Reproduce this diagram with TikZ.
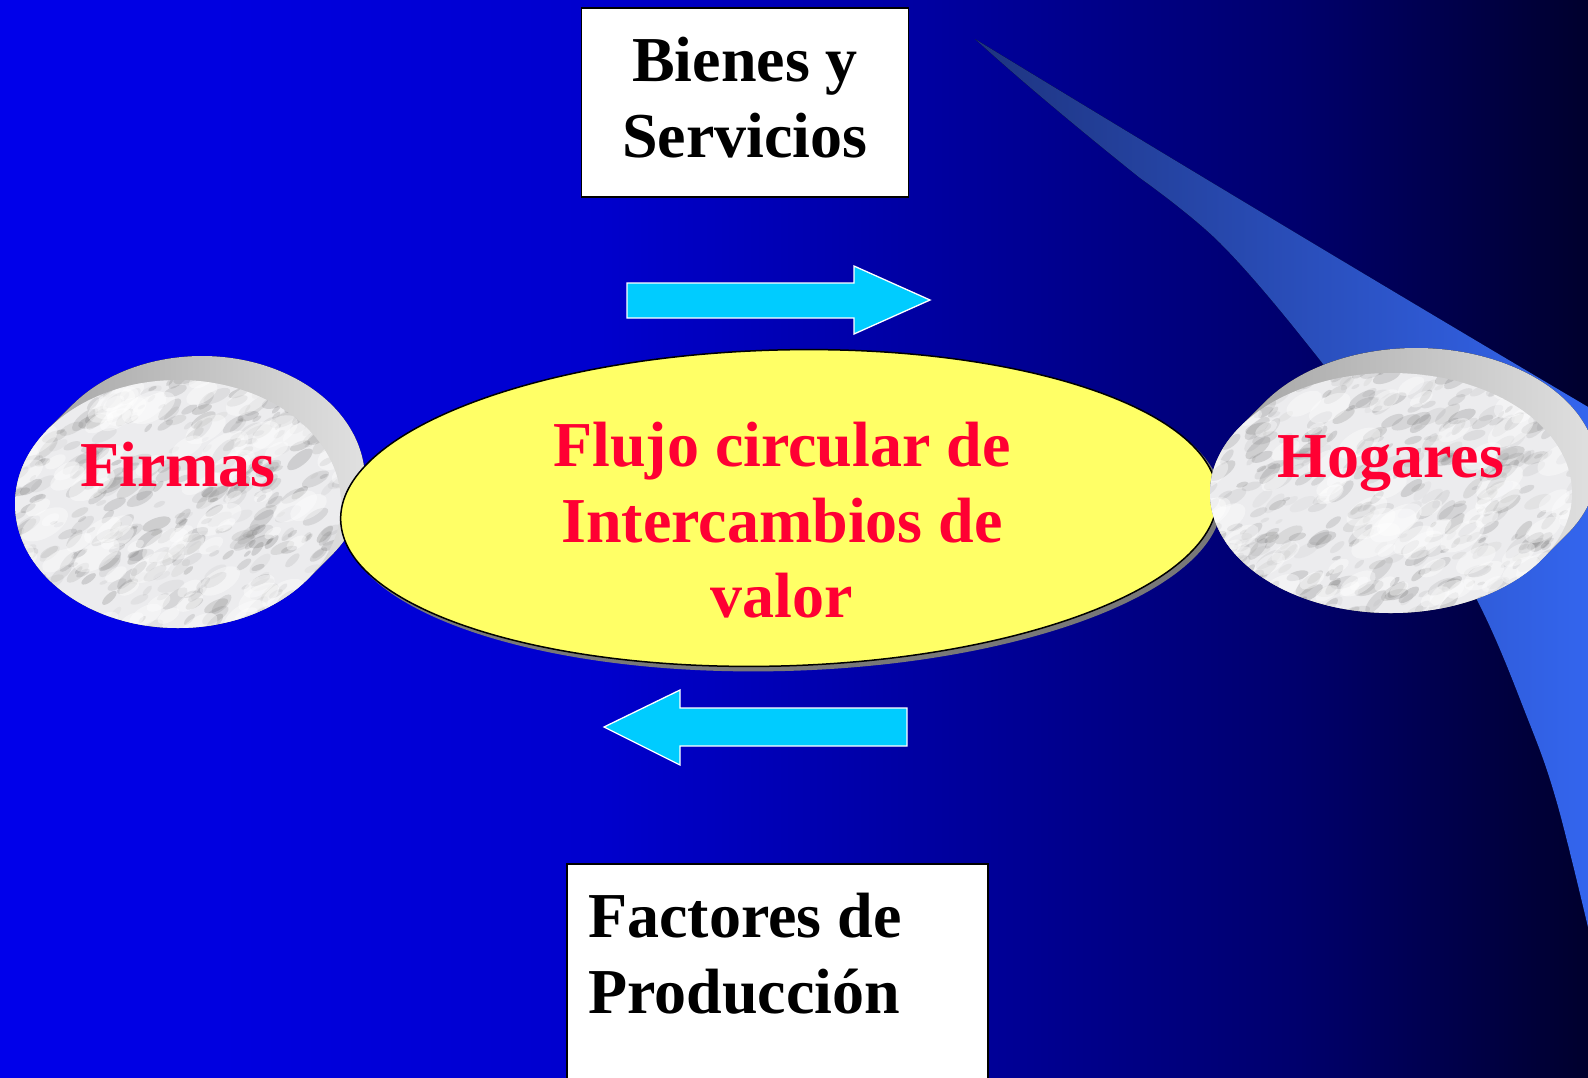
\documentclass[tikz,border=0pt]{standalone}
\usepackage{fontspec}
\setmainfont{Liberation Serif}
\usetikzlibrary{shapes.geometric}
\definecolor{txtred}{RGB}{255,0,51}
\definecolor{arrowcyan}{RGB}{0,204,255}
\definecolor{ellyellow}{RGB}{255,255,102}
\definecolor{bgA}{RGB}{0,0,235}
\definecolor{bgB}{RGB}{0,0,205}
\definecolor{bgC}{RGB}{0,0,160}
\definecolor{bgD}{RGB}{0,0,108}
\definecolor{bgE}{RGB}{0,0,45}
\definecolor{swA}{RGB}{30,52,128}
\definecolor{swB}{RGB}{52,102,240}
\definecolor{rimdark}{RGB}{158,158,158}
\definecolor{rimlight}{RGB}{228,228,228}
\definecolor{marblebase}{RGB}{236,236,238}
\definecolor{shadowgray}{RGB}{120,120,120}
\pgfdeclarehorizontalshading{bgshade}{100bp}{color(0bp)=(bgA); color(25bp)=(bgA); color(43.9bp)=(bgB); color(54.3bp)=(bgC); color(65.9bp)=(bgD); color(75bp)=(bgE); color(100bp)=(bgE)}
\tikzset{
  bigtext/.style={font=\bfseries\fontsize{64}{76}\selectfont, inner sep=0pt},
  blacktext/.style={bigtext, text=black},
  redtext/.style={bigtext, text=txtred},
  whitebox/.style={draw=black, fill=white, line width=1.8pt},
  flowarrow/.style={fill=arrowcyan, draw=white, line width=1.3pt, line join=miter},
  rimstep/.style={left color=rimdark, right color=rimlight, draw=none},
  veins/.style={fill=black!60, draw=none},
}
\begin{document}
\begin{tikzpicture}[x=1pt,y=-1pt]
\useasboundingbox (0,0) rectangle (1588,1077);
\clip (0,0) rectangle (1588,1077);
% background
\shade[shading=bgshade] (0,0) rectangle (1588,1077);
% swoosh
\fill[left color=swA, right color=swB]
  (975,39) .. controls (1170,158) and (1400,296) .. (1600,414)
  -- (1600,945)
  -- plot[smooth, tension=0.6] coordinates {(1591,940) (1557,803) (1527,717) (1477,600) (1400,470) (1312,350) (1220,243) (1140,178)}
  .. controls (1080,130) and (1020,80) .. (975,39)
  -- cycle;
% boxes
\node[whitebox, minimum width=327pt, minimum height=189pt, inner sep=0pt] (topbox) at (745,102.5) {};
\node[blacktext, anchor=base] (bs1) at (745,81) {Bienes y};
\node[blacktext, anchor=base] (bs2) at (745,157) {Servicios};
\draw[whitebox] (567,864) rectangle (988,1090);
\coordinate (botbox) at (777,970);
\node[blacktext, anchor=base west] (fp1) at (588,937) {Factores de};
\node[blacktext, anchor=base west] (fp2) at (588,1013) {Producción};
% arrows
\draw[flowarrow] (627,283) -- (854,283) -- (854,266) -- (930,300) -- (854,334) -- (854,318) -- (627,318) -- cycle;
\draw[flowarrow] (907,708) -- (680,708) -- (680,690) -- (604,727) -- (680,765) -- (680,746) -- (907,746) -- cycle;
\pgfmathsetseed{7}
% Firmas disc
\pgfmathsetmacro{\ta}{atan(124/163)}
\fill[rimstep] ({178+163*cos(\ta)},{504+124*sin(\ta)})
  -- ({202+163*cos(\ta)},{480+124*sin(\ta)})
  arc[start angle=\ta, end angle=\ta-180, x radius=163, y radius=124]
  -- ({178+163*cos(\ta+180)},{504+124*sin(\ta+180)})
  arc[start angle=\ta+180, end angle=\ta, x radius=163, y radius=124] -- cycle;
\begin{scope}
  \clip (178,504) ellipse [x radius=163, y radius=124];
  \fill[marblebase] (10,375) rectangle (345,632);
  \foreach \k in {1,...,420} {
    \pgfmathsetmacro{\bx}{178+170*rand}
    \pgfmathsetmacro{\by}{504+130*rand}
    \pgfmathsetmacro{\br}{2+6*rnd}
    \pgfmathsetmacro{\bo}{0.05+0.18*rnd}
    \pgfmathsetmacro{\ba}{15+35*rnd}
    \fill[veins, opacity=\bo, rotate around={\ba:(\bx,\by)}] (\bx,\by) ellipse [x radius={2*\br}, y radius={0.8*\br}];
  }
  \foreach \k in {1,...,90} {
    \pgfmathsetmacro{\bx}{178+170*rand}
    \pgfmathsetmacro{\by}{504+130*rand}
    \pgfmathsetmacro{\br}{5+10*rnd}
    \fill[white, opacity=0.4, rotate around={30:(\bx,\by)}] (\bx,\by) ellipse [x radius={1.8*\br}, y radius={0.9*\br}];
  }
\end{scope}
\node[redtext, anchor=base] (firmas) at (178,486) {Firmas};
% central ellipse
\fill[shadowgray, rotate around={1.6:(783,512)}] (783,512) ellipse [x radius=439, y radius=159];
\node[ellipse, draw=black, line width=1.5pt, fill=ellyellow, minimum width=877pt, minimum height=316pt, rotate=1.6, inner sep=0pt] (flujo) at (779,508) {};
\node[redtext, anchor=base] (fl1) at (782,466) {Flujo circular de};
\node[redtext, anchor=base] (fl2) at (782,542) {Intercambios de};
\node[redtext, anchor=base] (fl3) at (782,617) {valor};
% Hogares disc
\pgfmathsetmacro{\tb}{atan(120/181)}
\fill[rimstep] ({1391+181*cos(\tb)},{493+120*sin(\tb)})
  -- ({1416+181*cos(\tb)},{468+120*sin(\tb)})
  arc[start angle=\tb, end angle=\tb-180, x radius=181, y radius=120]
  -- ({1391+181*cos(\tb+180)},{493+120*sin(\tb+180)})
  arc[start angle=\tb+180, end angle=\tb, x radius=181, y radius=120] -- cycle;
\begin{scope}
  \clip (1391,493) ellipse [x radius=181, y radius=120];
  \fill[marblebase] (1205,368) rectangle (1578,618);
  \foreach \k in {1,...,460} {
    \pgfmathsetmacro{\bx}{1391+190*rand}
    \pgfmathsetmacro{\by}{493+125*rand}
    \pgfmathsetmacro{\br}{2+6*rnd}
    \pgfmathsetmacro{\bo}{0.05+0.18*rnd}
    \pgfmathsetmacro{\ba}{15+35*rnd}
    \fill[veins, opacity=\bo, rotate around={\ba:(\bx,\by)}] (\bx,\by) ellipse [x radius={2*\br}, y radius={0.8*\br}];
  }
  \foreach \k in {1,...,90} {
    \pgfmathsetmacro{\bx}{1391+190*rand}
    \pgfmathsetmacro{\by}{493+125*rand}
    \pgfmathsetmacro{\br}{5+10*rnd}
    \fill[white, opacity=0.4, rotate around={30:(\bx,\by)}] (\bx,\by) ellipse [x radius={1.8*\br}, y radius={0.9*\br}];
  }
\end{scope}
\node[redtext, anchor=base] (hogares) at (1391,477) {Hogares};
\end{tikzpicture}
\end{document}
